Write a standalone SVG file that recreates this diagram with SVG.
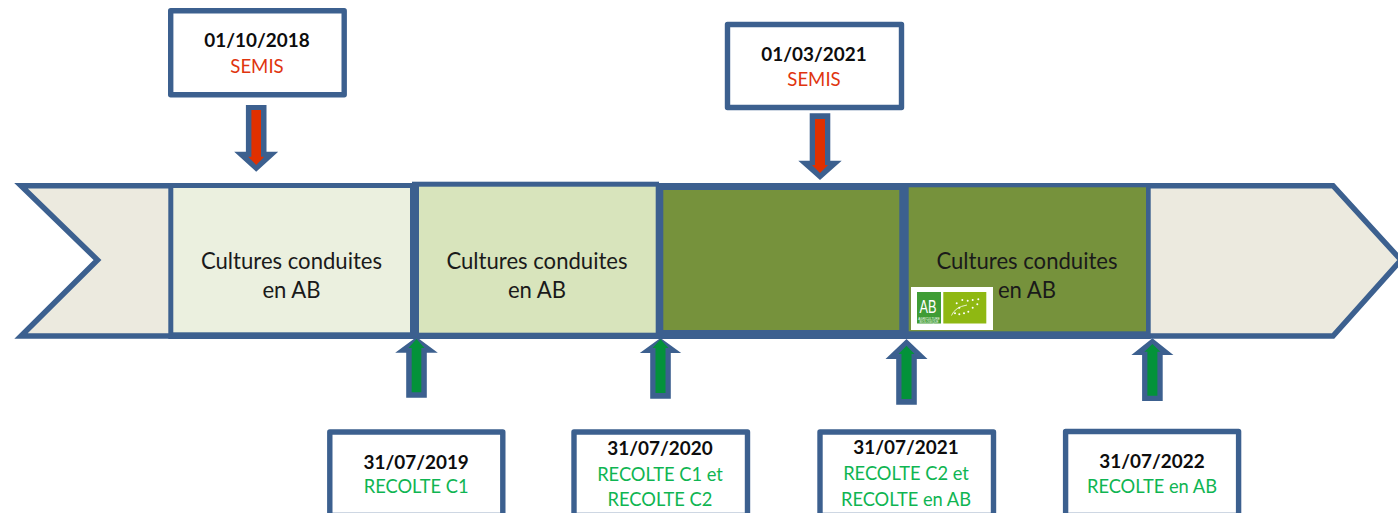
<svg xmlns="http://www.w3.org/2000/svg" width="1398" height="513" viewBox="0 0 1398 513">
<style>
text{font-family:"Lato","Liberation Sans",sans-serif;text-anchor:middle}
.band{stroke:#3C608F;stroke-width:5.5;fill:#ECEADF;stroke-linejoin:miter}
.frame{fill:#3C608F}
.box{fill:#fff;stroke:#3C608F;stroke-width:5.4;stroke-linejoin:round}
.date{font-size:18.9px;font-weight:700;fill:#0d0d0d}
.red{font-size:18.6px;fill:#E0340F}
.green{font-size:18.3px;fill:#0FB552}
.body{font-size:22.1px;fill:#1a1a1a}
.ao{fill:#3C608F}
.ar{fill:#E03000}
.ag{fill:#03923A}
.dot{fill:#fff}
</style>
<g id="timeline-band">
<polygon class="band" points="21,185.700 1333,185.700 1401,260 1333,336 21,336 97.500,260"/>
<rect class="frame" x="168.300" y="183" width="982.400" height="156"/>
<rect class="frame" x="412" y="181.700" width="247" height="3"/>
</g>
<g id="segment-1"><rect x="173.300" y="188" width="236.700" height="144.300" fill="#EBF0DF"/><text class="body" x="291.500" y="269">Cultures conduites</text><text class="body" x="291.500" y="297.500">en AB</text></g>
<g id="segment-2"><rect x="419" y="186.700" width="236.700" height="146" fill="#D8E4BC"/><text class="body" x="537" y="269">Cultures conduites</text><text class="body" x="537" y="297.500">en AB</text></g>
<g id="segment-3"><rect x="663.300" y="190" width="236" height="140" fill="#76923C"/></g>
<g id="segment-4"><rect x="908.700" y="187.300" width="237.300" height="144" fill="#76923C"/><text class="body" x="1027" y="269">Cultures conduites</text><text class="body" x="1027" y="297.500">en AB</text>
<g id="ab-logo"><rect x="911" y="287" width="82" height="43" fill="#fff"/><rect x="917" y="292" width="24" height="31.500" fill="#3F9C35"/><rect x="943.300" y="292" width="43" height="31.500" fill="#8FB812"/>
<text x="928" y="313" font-size="19" fill="#fff" textLength="17" lengthAdjust="spacingAndGlyphs" style="font-family:'Liberation Sans',sans-serif">AB</text>
<text x="929" y="319.500" font-size="3" fill="#fff" style="font-family:'Liberation Sans',sans-serif">AGRICULTURE</text>
<text x="929" y="323" font-size="3" fill="#fff" style="font-family:'Liberation Sans',sans-serif">BIOLOGIQUE</text>
<path d="M951.500 315.500Q955 307 967 305" fill="none" stroke="#fff" stroke-width=".8"/>
<circle class="dot" cx="956.700" cy="303.300" r="1"/><circle class="dot" cx="962.300" cy="300" r="1"/><circle class="dot" cx="967.700" cy="300.700" r="1"/><circle class="dot" cx="972.700" cy="300" r="1"/><circle class="dot" cx="978.300" cy="299.300" r="1"/><circle class="dot" cx="977.300" cy="304.300" r="1"/><circle class="dot" cx="972.700" cy="307.700" r="1"/><circle class="dot" cx="968.300" cy="311.700" r="1"/><circle class="dot" cx="964" cy="313.300" r="1"/><circle class="dot" cx="959.300" cy="314.300" r="1"/><circle class="dot" cx="955" cy="313.300" r="1"/><circle class="dot" cx="959.300" cy="307.700" r="1"/>
</g></g>
<g id="connectors">
<g transform="translate(256.200,171.700)"><polygon class="ao" points="-10.300,-66.700 10.300,-66.700 10.300,-20 22,-20 0,0 -22,-20 -10.300,-20"/><polygon class="ar" points="-4.800,-61.700 4.800,-61.700 4.800,-15 8,-15 0,-6.700 -8,-15 -4.800,-15"/></g>
<g transform="translate(820,180)"><polygon class="ao" points="-10.300,-66.700 10.300,-66.700 10.300,-19.300 21.700,-19.300 0,0 -21.700,-19.300 -10.300,-19.300"/><polygon class="ar" points="-5,-61 5,-61 5,-15 8,-15 0,-7 -8,-15 -5,-15"/></g>
<g transform="translate(416.500,337)"><polygon class="ao" points="-10.300,60.700 10.300,60.700 10.300,15.700 21.300,15.700 0,0 -21.300,15.700 -10.300,15.700"/><polygon class="ag" points="-4.800,55.300 4.800,55.300 4.800,11 8,11 0,2 -8,11 -4.800,11"/></g>
<g transform="translate(660.500,338)"><polygon class="ao" points="-10.300,60.700 10.300,60.700 10.300,15 20.700,15 0,0 -20.700,15 -10.300,15"/><polygon class="ag" points="-5,55 5,55 5,10 8,10 0,1.300 -8,10 -5,10"/></g>
<g transform="translate(906.500,339)"><polygon class="ao" points="-10.300,65.700 10.300,65.700 10.300,20 21,20 0,0 -21,20 -10.300,20"/><polygon class="ag" points="-5,60 5,60 5,15 8,15 0,6.700 -8,15 -5,15"/></g>
<g transform="translate(1152.400,338.300)"><polygon class="ao" points="-10.300,62.700 10.300,62.700 10.300,16.700 21,16.700 0,0 -21,16.700 -10.300,16.700"/><polygon class="ag" points="-5,57.400 5,57.400 5,13.400 8,13.400 0,5.700 -8,13.400 -5,13.400"/></g>
</g>
<g id="note-2018"><rect class="box" x="170.700" y="10.800" width="173.500" height="84"/><text class="date" x="257" y="47">01/10/2018</text><text class="red" x="257" y="73">SEMIS</text></g>
<g id="note-2021"><rect class="box" x="727.500" y="24.500" width="174" height="83"/><text class="date" x="814" y="61">01/03/2021</text><text class="red" x="814" y="86">SEMIS</text></g>
<g id="note-2019"><rect class="box" x="329.800" y="432" width="173" height="83.500"/><text class="date" x="416.200" y="468.700">31/07/2019</text><text class="green" x="416.200" y="493.200">RECOLTE C1</text></g>
<g id="note-2020"><rect class="box" x="574" y="432" width="173.500" height="83.500"/><text class="date" x="660" y="455">31/07/2020</text><text class="green" x="660" y="481">RECOLTE C1 et</text><text class="green" x="660" y="506">RECOLTE C2</text></g>
<g id="note-2021b"><rect class="box" x="820" y="432" width="173.500" height="83.500"/><text class="date" x="906" y="454">31/07/2021</text><text class="green" x="906" y="480">RECOLTE C2 et</text><text class="green" x="906" y="506">RECOLTE en AB</text></g>
<g id="note-2022"><rect class="box" x="1065.600" y="431.500" width="173" height="84"/><text class="date" x="1152" y="467.700">31/07/2022</text><text class="green" x="1152" y="492.700">RECOLTE en AB</text></g>
</svg>
